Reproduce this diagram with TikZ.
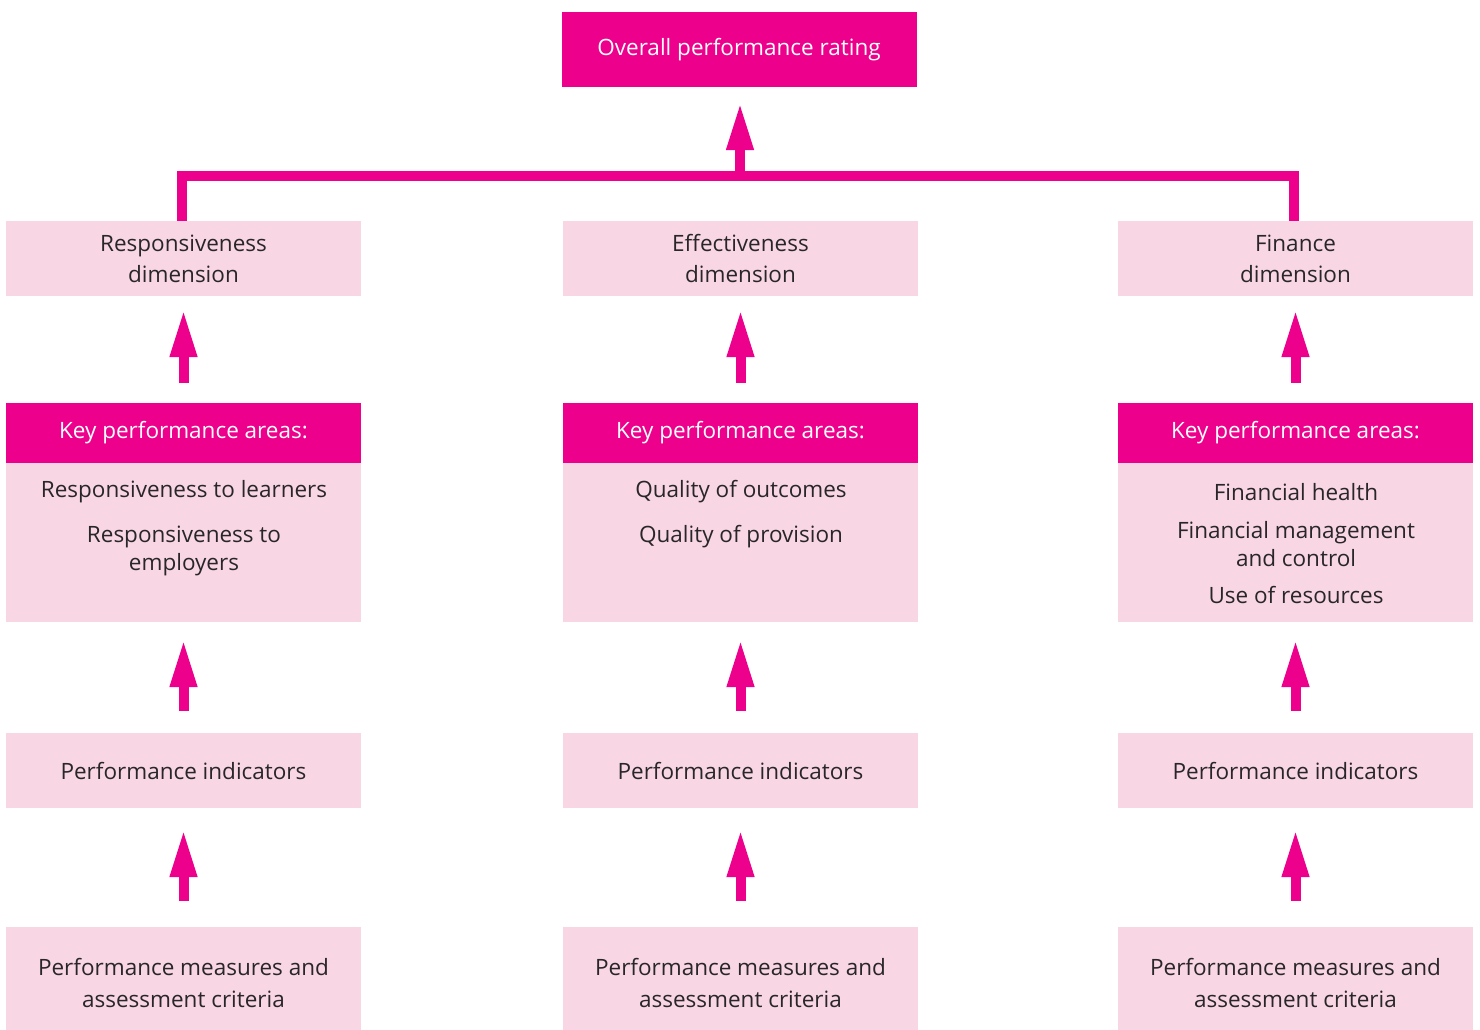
\documentclass[tikz,border=0pt]{standalone}
\usepackage{fontspec}
\setmainfont{Open Sans}
\usetikzlibrary{arrows.meta}
\definecolor{magenta}{RGB}{236,0,140}
\definecolor{lightpink}{RGB}{249,214,228}
\definecolor{ink}{RGB}{40,38,40}
\begin{document}
\begin{tikzpicture}[x=1pt,y=-1pt,
  box/.style={fill=lightpink,draw=none,minimum width=355pt,inner sep=0pt,
    text=ink,align=center,font=\fontsize{22.5}{31}\selectfont},
  hotbox/.style={box,fill=magenta,text=white},
  txt/.style={text=ink,align=center,inner sep=0pt,font=\fontsize{22.5}{28.5}\selectfont},
  link/.style={draw=magenta,line width=10pt,line join=miter},
  uparrow/.style={link,-{Triangle[width=25pt,length=48pt]}},
]
\useasboundingbox (0,0) rectangle (1480,1030);

% top rating box
\node[hotbox,minimum height=75pt] (top) at (739,49.5) {Overall performance rating};

% three columns of boxes
\foreach \c/\x/\dimtxt in {1/183.5/{Responsiveness\\dimension},2/740.5/{Effectiveness\\dimension},3/1295.5/{Finance\\dimension}}{
  \node[box,minimum height=75pt] (dim\c) at (\x,258.5) {\dimtxt};
  \node[box,minimum height=219pt] (kpa\c) at (\x,512.5) {};
  \node[hotbox,minimum height=60pt] (kph\c) at (\x,433) {Key performance areas:};
  \node[box,minimum height=75pt] (pi\c) at (\x,770.5) {Performance indicators};
  \node[box,minimum height=103pt] (pm\c) at (\x,978.5) {};
  \node[txt,font=\fontsize{22.5}{32}\selectfont] (pmt\c) at (\x,983) {Performance measures and\\assessment criteria};
  \draw[uparrow,shorten <=26pt,shorten >=21pt] (pm\c.north) -- (pi\c.south);
  \draw[uparrow,shorten <=22pt,shorten >=17pt] (pi\c.north) -- (kpa\c.south);
  \draw[uparrow,shorten <=20pt,shorten >=13pt] (kpa\c.north) -- (dim\c.south);
}

% key performance area items
\node[txt] (k1a) at (184,492) {Responsiveness to learners};
\node[txt] (k1b) at (184,551) {Responsiveness to\\employers};
\node[txt] (k2a) at (741,492) {Quality of outcomes};
\node[txt] (k2b) at (741,537) {Quality of provision};
\node[txt] (k3a) at (1296,492) {Financial health};
\node[txt] (k3b) at (1296,544) {Financial management\\and control};
\node[txt] (k3c) at (1296,595) {Use of resources};

% dimensions feed the overall rating
\coordinate (bus) at (740,176);
\draw[link] (dim1.north -| 182,0) |- (bus) -| (dim3.north -| 1294,0);
\draw[uparrow,shorten >=15pt] (bus) -- (top.south -| bus);
\end{tikzpicture}
\end{document}
